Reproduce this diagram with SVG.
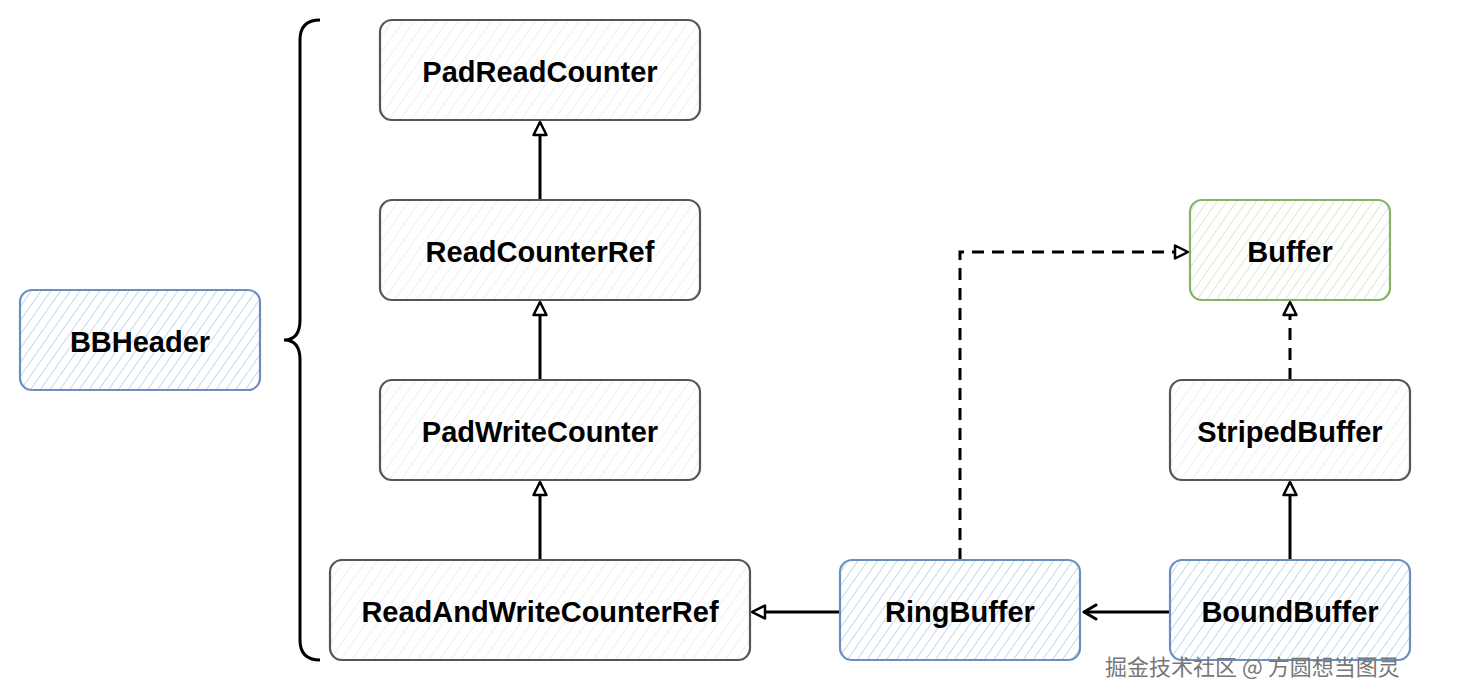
<svg xmlns="http://www.w3.org/2000/svg" width="1462" height="700" viewBox="0 0 1462 700">
<defs>
<pattern id="hBlue" patternUnits="userSpaceOnUse" width="8" height="8" patternTransform="rotate(35)"><line x1="0" y1="0" x2="0" y2="8" stroke="#9dbbe6" stroke-width="1.2"/></pattern>
<pattern id="hGray" patternUnits="userSpaceOnUse" width="9" height="9" patternTransform="rotate(35)"><line x1="0" y1="0" x2="0" y2="9" stroke="#e3e3e3" stroke-width="1.2"/></pattern>
<pattern id="hGreen" patternUnits="userSpaceOnUse" width="8" height="8" patternTransform="rotate(35)"><line x1="0" y1="0" x2="0" y2="8" stroke="#c2dcae" stroke-width="1.2"/></pattern>
<marker id="tri" markerWidth="18" markerHeight="18" refX="15" refY="9" orient="auto" markerUnits="userSpaceOnUse"><path d="M2,2.5 L15,9 L2,15.5 Z" fill="#fff" stroke="#000" stroke-width="2.5" stroke-linejoin="round"/></marker>
<marker id="open" markerWidth="18" markerHeight="18" refX="15" refY="9" orient="auto" markerUnits="userSpaceOnUse"><path d="M3,2 L15,9 L3,16" fill="none" stroke="#000" stroke-width="3" stroke-linecap="round" stroke-linejoin="round"/></marker>
</defs>
<style>
.n rect{stroke-width:2.2}
.g rect{fill:url(#hGray);stroke:#555}
.b rect{fill:url(#hBlue);stroke:#6c8ebf}
.gr rect{fill:url(#hGreen);stroke:#82b366}
text{font-family:"Liberation Sans",Arial,sans-serif;font-weight:bold;font-size:29px;fill:#000;text-anchor:middle;dominant-baseline:central}
.c line,.c path{stroke:#000;stroke-width:3;fill:none}
.d{stroke-dasharray:12 8}
.wm{font-family:"Noto Sans CJK SC","Liberation Sans",sans-serif;font-weight:normal;font-size:22px;fill:#777;text-anchor:start}
</style>
<rect width="1462" height="700" fill="#fff"/>
<g class="c">
<line x1="540" y1="200" x2="540" y2="122" marker-end="url(#tri)"/>
<line x1="540" y1="380" x2="540" y2="302" marker-end="url(#tri)"/>
<line x1="540" y1="560" x2="540" y2="482" marker-end="url(#tri)"/>
<line x1="840" y1="612" x2="752" y2="612" marker-end="url(#tri)"/>
<line x1="1170" y1="612" x2="1084" y2="612" marker-end="url(#open)"/>
<line x1="1290" y1="560" x2="1290" y2="482" marker-end="url(#tri)"/>
<line class="d" x1="1290" y1="380" x2="1290" y2="302" marker-end="url(#tri)"/>
<path class="d" d="M960,560 L960,252 L1188,252" marker-end="url(#tri)"/>
<path d="M320,20 Q300,20 300,40 L300,320 Q300,340 284,340 Q300,340 300,360 L300,640 Q300,660 320,660"/>
</g>
<g id="PadReadCounter" class="n g"><rect x="380" y="20" width="320" height="100" rx="12"/><text x="540" y="72">PadReadCounter</text></g>
<g id="ReadCounterRef" class="n g"><rect x="380" y="200" width="320" height="100" rx="12"/><text x="540" y="252">ReadCounterRef</text></g>
<g id="PadWriteCounter" class="n g"><rect x="380" y="380" width="320" height="100" rx="12"/><text x="540" y="432">PadWriteCounter</text></g>
<g id="ReadAndWriteCounterRef" class="n g"><rect x="330" y="560" width="420" height="100" rx="12"/><text x="540" y="612">ReadAndWriteCounterRef</text></g>
<g id="RingBuffer" class="n b"><rect x="840" y="560" width="240" height="100" rx="12"/><text x="960" y="612">RingBuffer</text></g>
<g id="BoundBuffer" class="n b"><rect x="1170" y="560" width="240" height="100" rx="12"/><text x="1290" y="612">BoundBuffer</text></g>
<g id="StripedBuffer" class="n g"><rect x="1170" y="380" width="240" height="100" rx="12"/><text x="1290" y="432">StripedBuffer</text></g>
<g id="Buffer" class="n gr"><rect x="1190" y="200" width="200" height="100" rx="12"/><text x="1290" y="252">Buffer</text></g>
<g id="BBHeader" class="n b"><rect x="20" y="290" width="240" height="100" rx="12"/><text x="140" y="342">BBHeader</text></g>
<text class="wm" x="1105" y="665">掘金技术社区 @ 方圆想当图灵</text>
</svg>
